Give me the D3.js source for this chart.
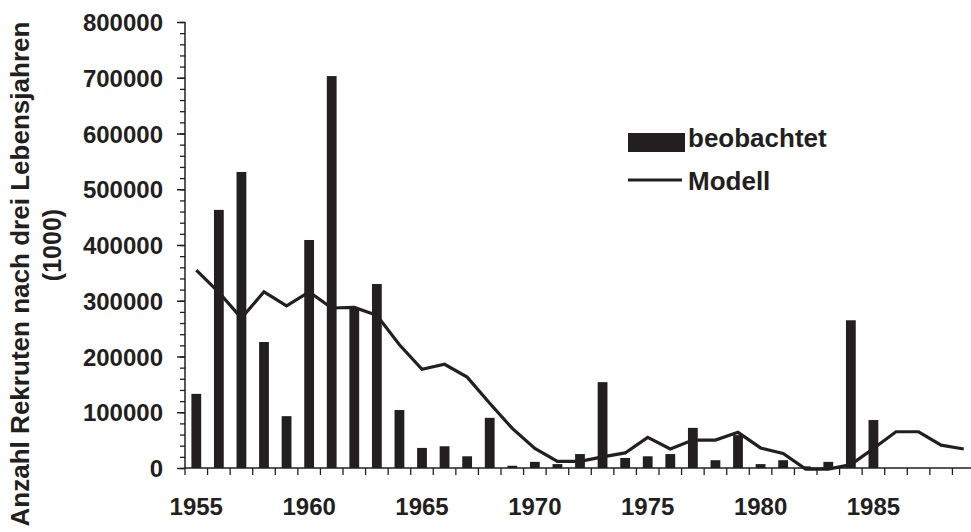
<!DOCTYPE html>
<html>
<head>
<meta charset="utf-8">
<script src="https://cdn.jsdelivr.net/npm/d3@7"></script>
<style>
  body { margin: 0; background: #fff; }
  svg { display: block; }
  text { font-family: "Liberation Sans", Arial, sans-serif; font-weight: bold; fill: #231f20; }
</style>
</head>
<body>
<script>
var years = [1955, 1956, 1957, 1958, 1959, 1960, 1961, 1962, 1963, 1964,
             1965, 1966, 1967, 1968, 1969, 1970, 1971, 1972, 1973, 1974,
             1975, 1976, 1977, 1978, 1979, 1980, 1981, 1982, 1983, 1984,
             1985, 1986, 1987, 1988, 1989];

// beobachtet (bars)
var observed = [133000, 463000, 531000, 226000, 93000, 409000, 703000, 287000, 330000, 104000,
                36000, 39000, 21000, 90000, 4000, 11000, 7000, 25000, 154000, 18000,
                21000, 25000, 72000, 14000, 59000, 7000, 14000, 3000, 11000, 265000,
                86000, null, null, null, null];

// Modell (line)
var model = [355000, 315000, 269000, 316000, 291000, 316000, 287000, 288000, 274000, 221000,
             177000, 186000, 163000, 116000, 71000, 35000, 12000, 12000, 20000, 27000,
             55000, 34000, 50000, 50000, 64000, 36000, 26000, -2000, -2000, 6000,
             35000, 65000, 65000, 41000, 34000];

var yTicks = [0, 100000, 200000, 300000, 400000, 500000, 600000, 700000, 800000];
var labelYears = [1955, 1960, 1965, 1970, 1975, 1980, 1985];

var W = 971, H = 532;
var ink = "#231f20";

var svg = d3.select("body").append("svg")
  .attr("width", W)
  .attr("height", H);

var x = d3.scaleBand().domain(years).range([185, 975]).paddingInner(0).paddingOuter(0);
var y = d3.scaleLinear().domain([0, 800000]).range([468, 22]);
var bw = x.bandwidth();

// bars
svg.append("g").selectAll("rect")
  .data(years.map(function(d, i) { return {year: d, v: observed[i]}; }).filter(function(d) { return d.v != null; }))
  .enter().append("rect")
    .attr("x", function(d) { return x(d.year) + bw / 2 - 4.9; })
    .attr("width", 9.8)
    .attr("y", function(d) { return y(d.v); })
    .attr("height", function(d) { return y(0) - y(d.v); })
    .attr("fill", ink);

// model line
var line = d3.line()
  .x(function(d, i) { return x(years[i]) + bw / 2; })
  .y(function(d) { return y(d); });

svg.append("path")
  .datum(model)
  .attr("d", line)
  .attr("fill", "none")
  .attr("stroke", ink)
  .attr("stroke-width", 3.2)
  .attr("stroke-linejoin", "miter");

// y axis: minor ticks
var minor = d3.range(0, 800001, 20000);
svg.append("g")
  .attr("transform", "translate(185,0)")
  .call(d3.axisLeft(y).tickValues(minor).tickSize(5).tickFormat(""))
  .call(function(g) { g.select(".domain").remove(); })
  .selectAll("line").attr("stroke", ink).attr("stroke-width", 1.3);

// y axis: major ticks + labels
var yAxis = svg.append("g")
  .attr("transform", "translate(185,0)")
  .call(d3.axisLeft(y).tickValues(yTicks).tickSize(8).tickPadding(14).tickFormat(d3.format("d")));
yAxis.select(".domain").attr("stroke", ink).attr("stroke-width", 1.5).attr("d", "M0," + y(800000) + "V" + y(0));
yAxis.selectAll("line").attr("stroke", ink).attr("stroke-width", 1.5);
yAxis.selectAll("text")
  .attr("font-size", 24)
  .attr("font-family", null)
  .attr("fill", ink)
  .attr("dy", "0.36em");

// x axis
var xg = svg.append("g");
xg.append("line")
  .attr("x1", 185).attr("x2", 975)
  .attr("y1", y(0)).attr("y2", y(0))
  .attr("stroke", ink).attr("stroke-width", 1.5);
xg.selectAll("line.tick")
  .data(years)
  .enter().append("line")
    .attr("class", "tick")
    .attr("x1", function(d) { return x(d); })
    .attr("x2", function(d) { return x(d); })
    .attr("y1", y(0)).attr("y2", y(0) + 7)
    .attr("stroke", ink).attr("stroke-width", 1.3);
xg.selectAll("text")
  .data(labelYears)
  .enter().append("text")
    .attr("x", function(d) { return x(d) + bw / 2; })
    .attr("y", 515)
    .attr("text-anchor", "middle")
    .attr("font-size", 24)
    .text(function(d) { return d; });

// y title
svg.append("text")
  .attr("transform", "translate(29,274) rotate(-90)")
  .attr("text-anchor", "middle")
  .attr("font-size", 25)
  .attr("textLength", 505)
  .attr("lengthAdjust", "spacingAndGlyphs")
  .text("Anzahl Rekruten nach drei Lebensjahren");
svg.append("text")
  .attr("transform", "translate(61,245) rotate(-90)")
  .attr("text-anchor", "middle")
  .attr("font-size", 25)
  .text("(1000)");

// legend
var lg = svg.append("g");
lg.append("rect").attr("x", 628).attr("y", 133).attr("width", 57).attr("height", 19).attr("fill", ink);
lg.append("text").attr("x", 688).attr("y", 147).attr("font-size", 26).text("beobachtet");
lg.append("line").attr("x1", 628).attr("x2", 682).attr("y1", 180).attr("y2", 180)
  .attr("stroke", ink).attr("stroke-width", 3.2);
lg.append("text").attr("x", 688).attr("y", 190).attr("font-size", 26).text("Modell");
</script>
</body>
</html>
